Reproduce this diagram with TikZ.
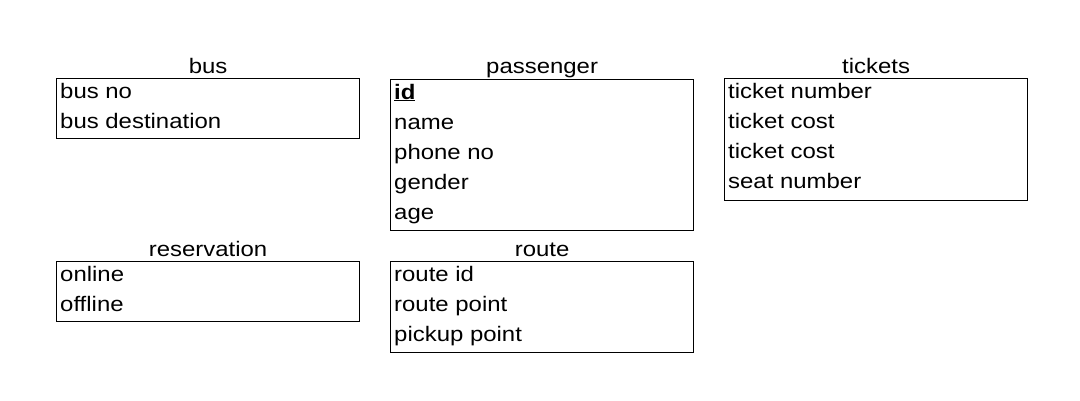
\documentclass[tikz,border=0pt]{standalone}
\usepackage{fontspec}
\setmainfont{Liberation Sans}[FakeStretch=1.14]
\usetikzlibrary{positioning}

\begin{document}
\begin{tikzpicture}[x=1pt, y=-1pt, font=\fontsize{21}{23}\selectfont, table/.style={draw, line width=1.2pt, minimum width=303pt, anchor=north west, inner sep=0pt}, title/.style={anchor=base, inner sep=0pt}, row/.style={anchor=base west, inner sep=0pt}]
\useasboundingbox (0,0) rectangle (1080,400);
% bus
\node[table, minimum height=60pt] (bus) at (56,78) {};
\node[title] (bustitle) at ([yshift=5pt]bus.north) {bus};
\node[row] (busno) at ([xshift=4pt, yshift=-20pt]bus.north west) {bus no};
\node[row] (busdest) at ([yshift=-30pt]busno.base west) {bus destination};
% passenger
\node[table, minimum height=151pt] (passenger) at (390,79) {};
\node[title] (passtitle) at ([yshift=6pt]passenger.north) {passenger};
\node[row] (passid) at ([xshift=4pt, yshift=-20pt]passenger.north west) {\underline{\textbf{id}}};
\node[row] (passname) at ([yshift=-30pt]passid.base west) {name};
\node[row] (passphone) at ([yshift=-30pt]passname.base west) {phone no};
\node[row] (passgender) at ([yshift=-30pt]passphone.base west) {gender};
\node[row] (passage) at ([yshift=-30pt]passgender.base west) {age};
% tickets
\node[table, minimum height=122pt] (tickets) at (724,78) {};
\node[title] (tickettitle) at ([yshift=5pt]tickets.north) {tickets};
\node[row] (ticketno) at ([xshift=4pt, yshift=-20pt]tickets.north west) {ticket number};
\node[row] (ticketcost) at ([yshift=-30pt]ticketno.base west) {ticket cost};
\node[row] (ticketcostb) at ([yshift=-30pt]ticketcost.base west) {ticket cost};
\node[row] (seatno) at ([yshift=-30pt]ticketcostb.base west) {seat number};
% reservation
\node[table, minimum height=60pt] (reservation) at (56,261) {};
\node[title] (restitle) at ([yshift=5pt]reservation.north) {reservation};
\node[row] (online) at ([xshift=4pt, yshift=-20pt]reservation.north west) {online};
\node[row] (offline) at ([yshift=-30pt]online.base west) {offline};
% route
\node[table, minimum height=91pt] (route) at (390,261) {};
\node[title] (routetitle) at ([yshift=5pt]route.north) {route};
\node[row] (routeid) at ([xshift=4pt, yshift=-20pt]route.north west) {route id};
\node[row] (routepoint) at ([yshift=-30pt]routeid.base west) {route point};
\node[row] (pickup) at ([yshift=-30pt]routepoint.base west) {pickup point};
\end{tikzpicture}
\end{document}
